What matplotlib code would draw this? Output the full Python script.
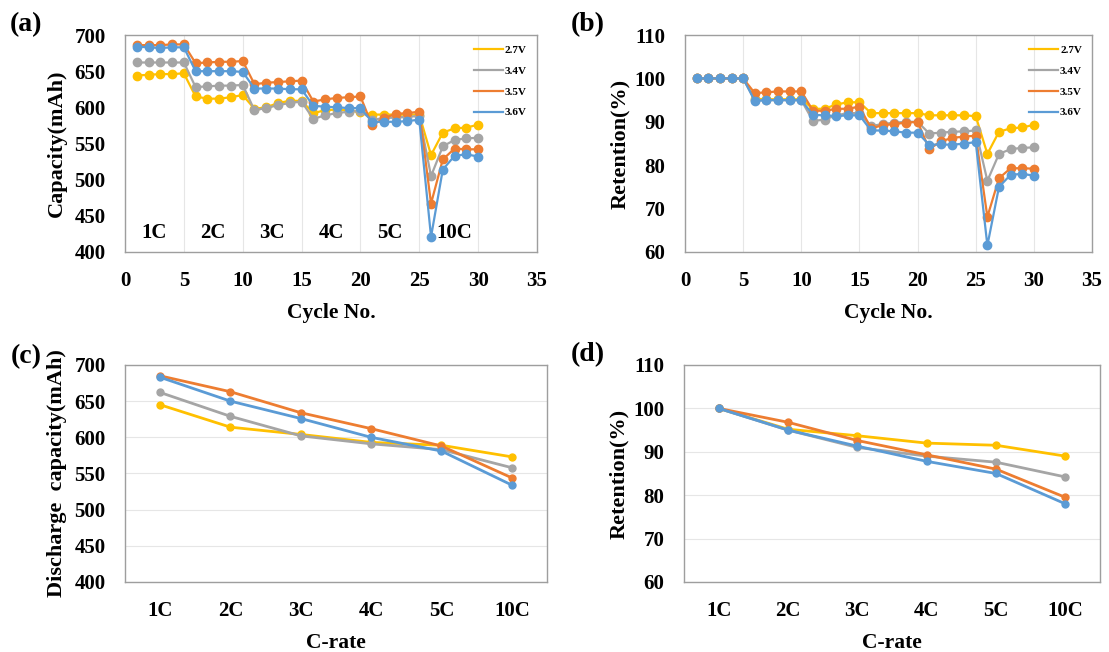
import matplotlib
matplotlib.use("Agg")
import matplotlib.pyplot as plt
import numpy as np

plt.rcParams['font.family'] = ['Liberation Serif', 'DejaVu Serif']
plt.rcParams['font.weight'] = 'bold'

# data
cycles = np.arange(1, 31)
volts = ['2.7V', '3.4V', '3.5V', '3.6V']
colors = ['#FFC000', '#A5A5A5', '#ED7D31', '#5B9BD5']

cap_27 = [644, 645, 646, 646, 647, 615, 612, 612, 614, 617, 598, 600, 606, 609, 609,
          592, 596, 597, 596, 593, 590, 590, 590, 590, 590, 534, 565, 571, 572, 576]
cap_34 = [662, 662, 662, 662, 662, 628, 629, 630, 630, 631, 596, 599, 603, 606, 608,
          584, 589, 592, 594, 595, 583, 585, 586, 587, 588, 505, 546, 555, 557, 558]
cap_35 = [686, 686, 686, 687, 687, 661, 662, 663, 663, 664, 632, 634, 635, 636, 637,
          608, 611, 613, 614, 615, 575, 585, 591, 592, 594, 467, 528, 543, 542, 542]
cap_36 = [684, 683, 682, 683, 683, 650, 650, 650, 650, 649, 626, 626, 626, 625, 625,
          602, 601, 600, 599, 599, 580, 580, 580, 581, 583, 421, 514, 533, 535, 532]

ret_27 = [100, 100, 100, 100, 100, 95.3, 95.2, 95.2, 95.2, 95.2, 93, 93, 94, 94.5, 94.5,
          92, 92, 92, 92, 92, 91.5, 91.5, 91.5, 91.5, 91.3, 82.6, 87.7, 88.5, 88.7, 89.3]
ret_34 = [100, 100, 100, 100, 100, 95, 95, 95, 95, 95, 90.2, 90.5, 91.5, 92, 92,
          89, 89.5, 89.8, 90, 90, 87.3, 87.5, 87.7, 87.8, 88, 76.4, 82.6, 83.7, 84, 84.1]
ret_35 = [100, 100, 100, 100, 100, 96.6, 96.8, 97, 97, 97, 92.6, 92.5, 93, 93, 93.5,
          88.5, 89.2, 89.5, 89.8, 90, 83.7, 85.5, 86.3, 86.6, 86.8, 68.1, 77, 79.3, 79.3, 79.2]
ret_36 = [100, 100, 100, 100, 100, 94.8, 95, 95, 95, 95, 91.6, 91.5, 91.3, 91.5, 91.5,
          88, 88, 87.8, 87.5, 87.5, 84.7, 84.8, 84.7, 85, 85.3, 61.5, 75, 77.8, 78, 77.6]

rates = ['1C', '2C', '3C', '4C', '5C', '10C']
dis_27 = [645, 614, 604, 593, 589, 573]
dis_34 = [662, 629, 602, 591, 583, 558]
dis_35 = [685, 663, 634, 612, 588, 544]
dis_36 = [683, 650, 626, 600, 581, 534]

rr_27 = [100, 95.2, 93.7, 92, 91.5, 89]
rr_34 = [100, 95, 91, 89, 87.6, 84.2]
rr_35 = [100, 96.8, 92.6, 89.3, 86, 79.5]
rr_36 = [100, 95, 91.3, 87.8, 85, 78]

fig = plt.figure(figsize=(11.09, 6.52), dpi=100)
axA = fig.add_axes([0.1127, 0.6135, 0.3715, 0.3328])
axB = fig.add_axes([0.6177, 0.6135, 0.3670, 0.3328])
axC = fig.add_axes([0.1127, 0.1074, 0.3805, 0.3328])
axD = fig.add_axes([0.6168, 0.1074, 0.3751, 0.3328])


def style(ax):
    for s in ax.spines.values():
        s.set_color('#9E9E9E')
        s.set_linewidth(1.0)
    ax.tick_params(axis='y', length=0, labelsize=15, pad=14)
    ax.tick_params(axis='x', length=0, labelsize=15, pad=14)
    for lab in ax.get_xticklabels() + ax.get_yticklabels():
        lab.set_fontweight('bold')


caps = [cap_27, cap_34, cap_35, cap_36]
rets = [ret_27, ret_34, ret_35, ret_36]
for ax, data in [(axA, caps), (axB, rets)]:
    for v, c, y in zip(volts, colors, data):
        ax.plot(cycles, y, color=c, lw=1.6, marker='o', ms=6, label=v)
    ax.set_xlim(0, 35)
    ax.set_xticks(np.arange(0, 36, 5))
    ax.grid(axis='x', color='#E6E6E6', lw=0.8)
    ax.set_axisbelow(True)
    ax.set_xlabel('Cycle No.', fontsize=15.5, fontweight='bold', labelpad=8)
    leg = ax.legend(loc='upper right', bbox_to_anchor=(1.0, 1.0), frameon=False,
                    labelspacing=1.0, handlelength=2.6, handletextpad=0.2,
                    prop={'weight': 'bold', 'size': 8})
    for h in leg.legend_handles:
        h.set_marker('')
    style(ax)

axA.set_ylim(400, 700)
axA.set_yticks(np.arange(400, 701, 50))
axA.set_ylabel('Capacity(mAh)', fontsize=16, fontweight='bold', labelpad=5)
label_x = [2.5, 7.5, 12.5, 17.5, 22.5, 28]
for lx, r in zip(label_x, rates):
    axA.text(lx, 426, r, ha='center', va='center', fontsize=15, fontweight='bold')

axB.set_ylim(60, 110)
axB.set_yticks(np.arange(60, 111, 10))
axB.set_ylabel('Retention(%)', fontsize=16, fontweight='bold', labelpad=3)

xr = np.arange(len(rates))
for ax, data in [(axC, [dis_27, dis_34, dis_35, dis_36]), (axD, [rr_27, rr_34, rr_35, rr_36])]:
    for v, c, y in zip(volts, colors, data):
        ax.plot(xr, y, color=c, lw=2.0, marker='o', ms=5, label=v)
    ax.set_xlim(-0.5, len(rates) - 0.5)
    ax.set_xticks(xr)
    ax.set_xticklabels(rates)
    ax.grid(axis='y', color='#E6E6E6', lw=0.8)
    ax.set_axisbelow(True)
    ax.set_xlabel('C-rate', fontsize=15.5, fontweight='bold', labelpad=8)
    style(ax)

axC.set_ylim(400, 700)
axC.set_yticks(np.arange(400, 701, 50))
axC.set_ylabel('Discharge  capacity(mAh)', fontsize=16, fontweight='bold', labelpad=5)
axD.set_ylim(60, 110)
axD.set_yticks(np.arange(60, 111, 10))
axD.set_ylabel('Retention(%)', fontsize=16, fontweight='bold', labelpad=3)

for txt, x, y in [('(a)', 26, 25), ('(b)', 588, 25), ('(c)', 26, 357), ('(d)', 588, 355)]:
    fig.text(x / 1109, 1 - y / 652, txt, ha='center', va='center', fontsize=20, fontweight='bold')

fig.savefig('out.png', dpi=100, facecolor='white')
